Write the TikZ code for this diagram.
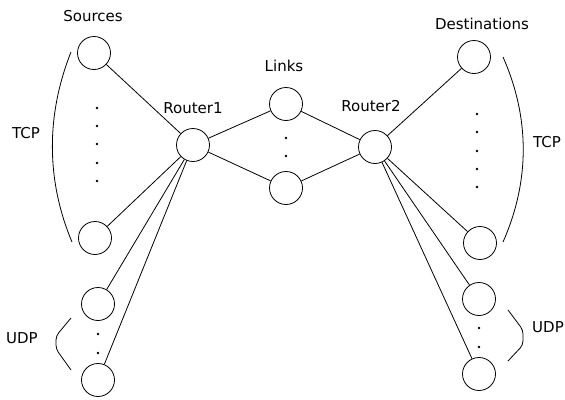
\documentclass[tikz,border=0pt]{standalone}
\usepackage{fontspec}
\setmainfont{DejaVu Sans}
\begin{document}
\begin{tikzpicture}[x=1pt,y=-1pt,
  host/.style={circle,draw,line width=0.8pt,minimum size=33pt,inner sep=0pt},
  lbl/.style={font=\fontsize{15}{18}\selectfont,inner sep=0pt},
  link/.style={line width=0.8pt},
  dotmark/.style={fill=black,draw=none,circle,minimum size=2.6pt,inner sep=0pt}]
\useasboundingbox (0,0) rectangle (565,399);
% nodes
\node[host] (s1) at (94,53) {};
\node[host] (s2) at (95,238) {};
\node[host] (u1) at (98,304) {};
\node[host] (u2) at (98,380) {};
\node[host] (r1) at (193,145) {};
\node[host] (l1) at (286,104) {};
\node[host] (l2) at (286,188) {};
\node[host] (r2) at (375,147) {};
\node[host] (d1) at (474,57) {};
\node[host] (d2) at (480,243) {};
\node[host] (v1) at (479,299) {};
\node[host] (v2) at (479,374) {};
% labels
\node[lbl] (tsrc) at (93,16) {Sources};
\node[lbl] (tdst) at (482,24) {Destinations};
\node[lbl] (tr1) at (193,108) {Router1};
\node[lbl] (tr2) at (371,106) {Router2};
\node[lbl] (tlnk) at (284,66) {Links};
\node[lbl] (ttcpl) at (26,133) {TCP};
\node[lbl] (ttcpr) at (547,142) {TCP};
\node[lbl] (tudpl) at (22,338) {UDP};
\node[lbl,anchor=east] (tudpr) at (564,327) {UDP};
% connectors
\draw[link] (r1) -- (s1);
\draw[link] (r1) -- (s2);
\draw[link] (r1) -- (u1);
\draw[link] (r1) -- (u2);
\draw[link] (r1) -- (l1);
\draw[link] (r1) -- (l2);
\draw[link] (l1) -- (r2);
\draw[link] (l2) -- (r2);
\draw[link] (r2) -- (d1);
\draw[link] (r2) -- (d2);
\draw[link] (r2) -- (v1);
\draw[link] (r2) -- (v2);
% dots
\foreach \y [count=\i] in {108,126,144,163,181} \node[dotmark] (ds\i) at (97,\y) {};
\foreach \y [count=\i] in {334,353} \node[dotmark] (du\i) at (98,\y) {};
\foreach \y [count=\i] in {138,156} \node[dotmark] (dl\i) at (286,\y) {};
\foreach \y [count=\i] in {114,132,151,169,187} \node[dotmark] (dd\i) at (477,\y) {};
\foreach \y [count=\i] in {328,347} \node[dotmark] (dv\i) at (479,\y) {};
% brackets
\coordinate (bl1) at (71,52);
\coordinate (bl2) at (72,242);
\draw[link] (bl1) .. controls (46,115) and (46,180) .. (bl2);
\coordinate (br1) at (503,57);
\coordinate (br2) at (503,242);
\draw[link] (br1) .. controls (530,118) and (530,181) .. (br2);
\draw[link,rounded corners=4pt] (71,318) -- (56,336) -- (56,349) -- (71,370);
\draw[link,rounded corners=4pt] (508,310) -- (523,330) -- (523,345) -- (508,361);
\end{tikzpicture}
\end{document}
